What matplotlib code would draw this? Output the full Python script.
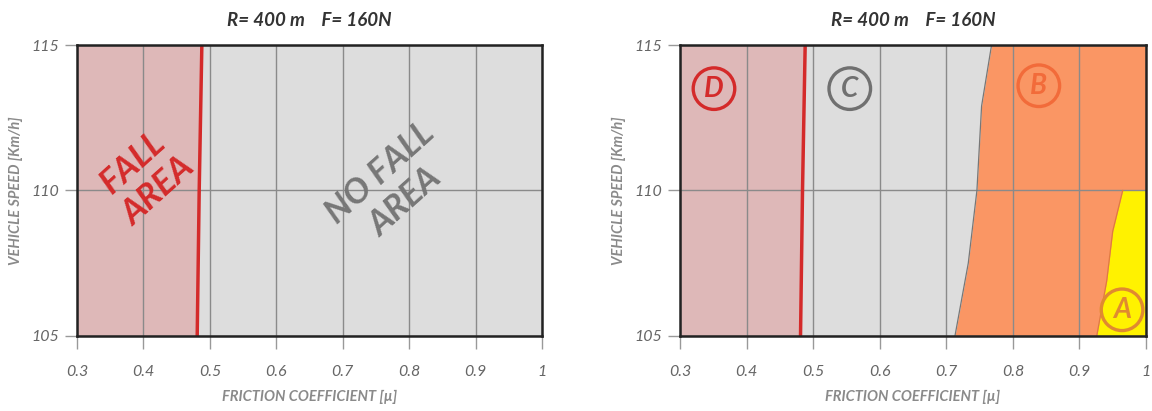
import matplotlib
matplotlib.use("Agg")
import matplotlib.pyplot as plt

plt.rcParams['font.family'] = ['Lato', 'DejaVu Sans']

# Axis ranges and ticks
mu_ticks = [0.3, 0.4, 0.5, 0.6, 0.7, 0.8, 0.9, 1.0]
mu_tick_labels = ["0.3", "0.4", "0.5", "0.6", "0.7", "0.8", "0.9", "1"]
speed_ticks = [105, 110, 115]

# Fall limit (red line): friction coefficient vs speed
fall_speed = [105, 110, 112.5, 115]
fall_mu = [0.481, 0.484, 0.486, 0.488]

# Boundary between zone C and zone B
cb_speed = [105, 107.5, 110, 112.9, 115]
cb_mu = [0.713, 0.733, 0.746, 0.753, 0.768]

# Boundary between zone B and zone A (zone A exists up to 110 km/h)
ba_speed = [105, 106.9, 108.6, 110]
ba_mu = [0.926, 0.941, 0.950, 0.965]

title = "R= 400 m    F= 160N"

PINK = "#deb8b8"
GREY = "#dddddd"
ORANGE = "#fa9664"
YELLOW = "#fff200"
RED = "#d42a2a"

fig = plt.figure(figsize=(11.52, 4.11), dpi=100)
ax1 = fig.add_axes([0.0668, 0.1825, 0.4037, 0.708])
ax2 = fig.add_axes([0.5903, 0.1825, 0.4045, 0.708])


def style_axes(ax):
    ax.set_xlim(0.3, 1.0)
    ax.set_ylim(105, 115)
    ax.set_xticks(mu_ticks)
    ax.set_xticklabels(mu_tick_labels)
    ax.set_yticks(speed_ticks)
    ax.grid(True, color="#8a8a8a", linewidth=1.0, zorder=2)
    ax.set_axisbelow(False)
    for s in ax.spines.values():
        s.set_linewidth(1.8)
        s.set_color("#222222")
        s.set_zorder(6)
    ax.tick_params(axis="x", direction="out", length=9, width=1, color="#999999",
                   pad=12, labelsize=11.5, labelcolor="#666666")
    ax.tick_params(axis="y", direction="out", length=9, width=1, color="#999999",
                   pad=4, labelsize=11.5, labelcolor="#666666")
    for lab in ax.get_xticklabels() + ax.get_yticklabels():
        lab.set_fontstyle("italic")
    ax.set_title(title, fontsize=13.5, fontweight="bold", fontstyle="italic",
                 color="#333333", pad=14)
    ax.set_xlabel("FRICTION COEFFICIENT [µ]", fontsize=10.5, fontweight="bold",
                  fontstyle="italic", color="#8a8a8a", labelpad=8)
    ax.set_ylabel("VEHICLE SPEED [Km/h]", fontsize=10.5, fontweight="bold",
                  fontstyle="italic", color="#8a8a8a", labelpad=6)


# Left chart: fall / no fall
ax1.fill_betweenx(fall_speed, 0.3, fall_mu, color=PINK, linewidth=0, zorder=1)
ax1.fill_betweenx(fall_speed, fall_mu, 1.0, color=GREY, linewidth=0, zorder=1)
ax1.plot(fall_mu, fall_speed, color=RED, linewidth=2.5, zorder=4)
ax1.text(0.403, 110.45, "FALL\nAREA", rotation=42, ha="center", va="center",
         fontsize=25, fontweight="bold", fontstyle="italic", color=RED,
         linespacing=1.25, zorder=5)
ax1.text(0.775, 110.1, "NO FALL\nAREA", rotation=42, ha="center", va="center",
         fontsize=25, fontweight="bold", fontstyle="italic", color="#777777",
         linespacing=1.25, zorder=5)
style_axes(ax1)

# Right chart: zones A-D
ax2.fill_betweenx(fall_speed, 0.3, fall_mu, color=PINK, linewidth=0, zorder=1)
ax2.fill_betweenx(cb_speed, 0.45, cb_mu, color=GREY, linewidth=0, zorder=0.9)
ax2.fill_betweenx(cb_speed, cb_mu, 1.0, color=ORANGE, linewidth=0, zorder=1)
ax2.fill_betweenx(ba_speed, ba_mu, 1.0, color=YELLOW, linewidth=0, zorder=1.1)
ax2.plot(cb_mu, cb_speed, color="#777777", linewidth=0.9, zorder=3)
ax2.plot(ba_mu, ba_speed, color="#e07a40", linewidth=0.9, zorder=3)
ax2.plot(fall_mu, fall_speed, color=RED, linewidth=2.5, zorder=4)

zone_labels = ["D", "C", "B", "A"]
zone_mu = [0.351, 0.555, 0.839, 0.964]
zone_speed = [113.5, 113.5, 113.6, 105.9]
zone_colors = [RED, "#707070", "#f26b3a", "#e08a30"]
for lab, x, y, c in zip(zone_labels, zone_mu, zone_speed, zone_colors):
    ax2.text(x, y, lab, ha="center", va="center", fontsize=20,
             fontweight="bold", fontstyle="italic", color=c, zorder=5,
             bbox=dict(boxstyle="circle,pad=0.28", facecolor="none",
                       edgecolor=c, linewidth=2.4))
style_axes(ax2)

fig.savefig("out.png", dpi=100)
